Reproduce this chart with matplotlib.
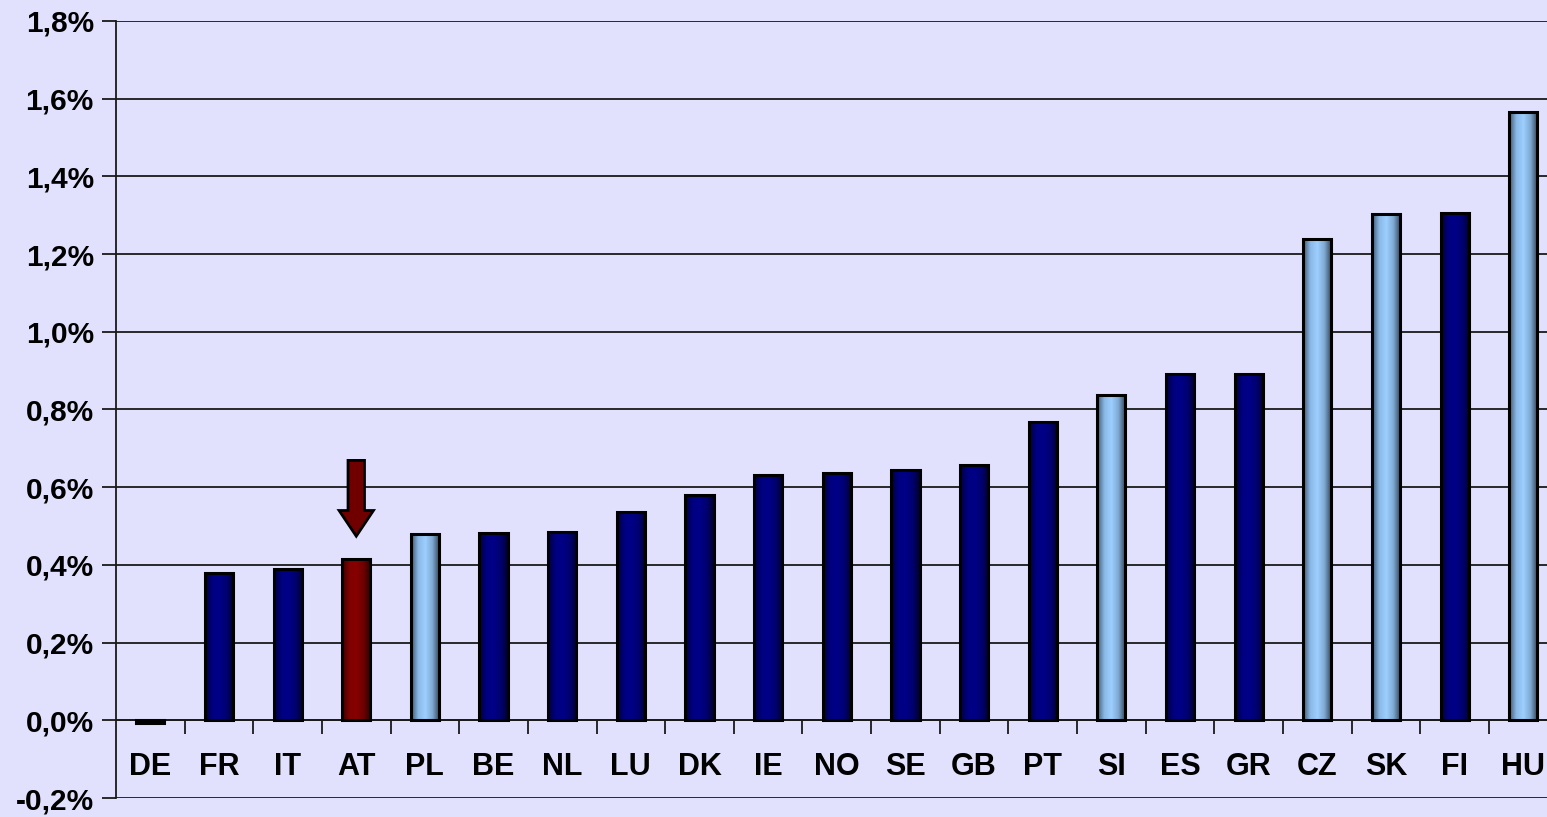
import matplotlib
matplotlib.use("Agg")
import matplotlib.pyplot as plt
import numpy as np
from matplotlib.colors import LinearSegmentedColormap
from matplotlib.patches import FancyArrow

countries = ["DE", "FR", "IT", "AT", "PL", "BE", "NL", "LU", "DK", "IE", "NO",
             "SE", "GB", "PT", "SI", "ES", "GR", "CZ", "SK", "FI", "HU"]
values = [-0.008, 0.378, 0.389, 0.414, 0.479, 0.481, 0.484, 0.535, 0.579, 0.631,
          0.636, 0.644, 0.656, 0.767, 0.837, 0.891, 0.891, 1.238, 1.302, 1.305, 1.565]
groups = ["dark", "dark", "dark", "highlight", "light", "dark", "dark", "dark", "dark",
          "dark", "dark", "dark", "dark", "dark", "light", "dark", "dark", "light",
          "light", "dark", "light"]
ytick_values = [-0.2, 0.0, 0.2, 0.4, 0.6, 0.8, 1.0, 1.2, 1.4, 1.6, 1.8]
ytick_labels = ["-0,2%", "0,0%", "0,2%", "0,4%", "0,6%", "0,8%", "1,0%", "1,2%",
                "1,4%", "1,6%", "1,8%"]

gradients = {
    "dark": ["#00003a", "#000080", "#000088", "#000070", "#00002e"],
    "light": ["#3d5670", "#8ab8e6", "#9dcfff", "#7ea8d2", "#2e4254"],
    "highlight": ["#3a0000", "#800000", "#880000", "#6e0000", "#2e0000"],
}
base = {"dark": "#000080", "light": "#99CCFF", "highlight": "#800000"}

bg = "#E1E1FD"
fig = plt.figure(figsize=(15.47, 8.17), dpi=100, facecolor=bg)
ax = fig.add_axes([116 / 1547, 19 / 817, (1557.6 - 116) / 1547, (798 - 21) / 817])
ax.set_facecolor(bg)

x = np.arange(len(countries))
width = 0.41
grad = np.linspace(0, 1, 64).reshape(1, -1)
for xi, v, g in zip(x, values, groups):
    bar = ax.bar(xi, v, width=width, color=base[g], edgecolor="none", zorder=3)[0]
    cmap = LinearSegmentedColormap.from_list(g, gradients[g])
    y0, y1 = min(0, v), max(0, v)
    im = ax.imshow(grad, cmap=cmap, aspect="auto",
                   extent=[xi - width / 2, xi + width / 2, y0, y1], zorder=3.5)
    im.set_clip_path(bar)
    ax.bar(xi, v, width=width, fill=False, edgecolor="black", linewidth=2.2, zorder=4)

# highlight arrow above AT
ai = countries.index("AT")
av = values[ai]
arr = FancyArrow(ai, av + 0.255, 0, -0.195, width=0.24, head_width=0.5,
                 head_length=0.066, length_includes_head=True,
                 facecolor="#700000", edgecolor="black", linewidth=2, zorder=5)
ax.add_patch(arr)

ax.set_xlim(-0.5, len(countries) - 0.5)
ax.set_ylim(-0.2, 1.8)
ax.set_yticks(ytick_values)
ax.set_yticklabels(ytick_labels, fontsize=21.5, fontweight="bold", family="Liberation Sans")
ax.yaxis.grid(True, color="#1a1a1a", linewidth=1.3, zorder=1)
ax.set_axisbelow(True)
ax.tick_params(axis="y", length=10, width=1.3, color="#1a1a1a", pad=6)

for s in ["top", "right"]:
    ax.spines[s].set_visible(False)
ax.spines["left"].set_linewidth(1.3)
ax.spines["left"].set_color("#1a1a1a")
ax.spines["bottom"].set_position(("data", 0))
ax.spines["bottom"].set_linewidth(1.3)
ax.spines["bottom"].set_color("#1a1a1a")

ax.set_xticks(x)
ax.set_xticklabels(countries, fontsize=22, fontweight="bold", family="Liberation Sans")
ax.set_xticks(np.arange(0.5, len(countries) - 0.5, 1), minor=True)
ax.tick_params(axis="x", which="major", length=0, pad=23)
ax.tick_params(axis="x", which="minor", length=10, width=1.3, color="#1a1a1a", direction="out")

fig.savefig("out.png", dpi=100, facecolor=bg)
